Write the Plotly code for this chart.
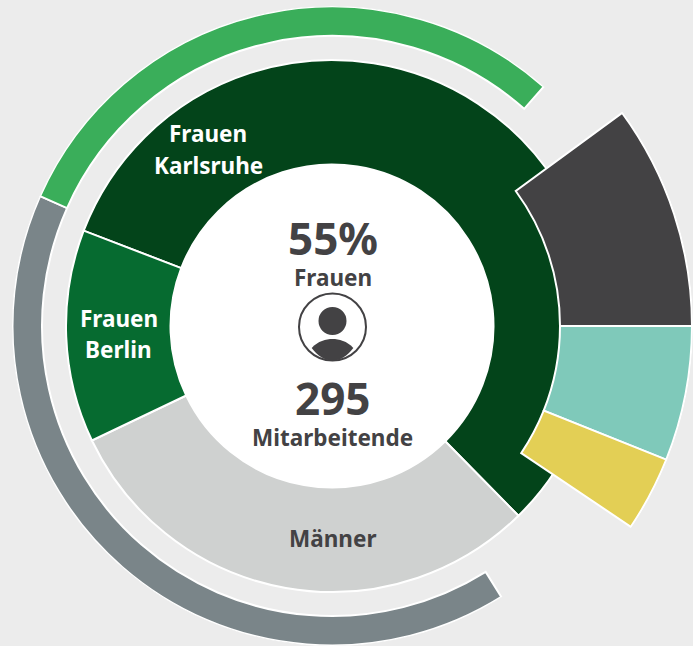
import math
import plotly.graph_objects as go

W, H = 693, 646
CX, CY = 332.0, 326.0

# Angular extents in degrees, clockwise from 12 o'clock
inner_labels = ["Frauen Karlsruhe", "Männer", "Frauen Berlin"]
inner_extents = [204.5, 109.0, 46.5]
inner_colors = ["#03441a", "#cfd1d0", "#066b30"]
inner_start = 291.0

wedge_labels = ["Anthrazit", "Türkis", "Gelb"]
wedge_extents = [36.3, 21.8, 12.1]
wedge_colors = ["#434244", "#7fc9ba", "#e3cf55"]
wedge_start = 53.7

arc_labels = ["Grau", "Grün"]
arc_extents = [146.0, 107.5]
arc_colors = ["#7a8589", "#3aae5a"]
arc_start = 148.0

def mids(start, extents):
    out, a = [], start
    for e in extents:
        out.append(a + e / 2)
        a += e
    return out

def bar(start, extents, colors, labels, r0, r1, subplot, lw=2):
    return go.Barpolar(theta=mids(start, extents), width=extents,
                       base=[r0] * len(extents), r=[r1 - r0] * len(extents),
                       marker=dict(color=colors, line=dict(color="white", width=lw)),
                       text=labels, hoverinfo="text", subplot=subplot, showlegend=False)

fig = go.Figure()
fig.add_trace(go.Barpolar(theta=[180], width=[360], base=[0], r=[162],
                          marker=dict(color="white", line=dict(width=0)),
                          hoverinfo="skip", subplot="polar", showlegend=False))
fig.add_trace(bar(inner_start, inner_extents, inner_colors, inner_labels, 161.5, 266, "polar"))
fig.add_trace(bar(arc_start, arc_extents, arc_colors, arc_labels, 290, 319.5, "polar"))
fig.add_trace(bar(wedge_start, wedge_extents, wedge_colors, wedge_labels, 228, 360, "polar2"))

R1 = 320
R2 = W - CX
def polar(domain, **kw):
    return dict(domain=domain, bgcolor="rgba(0,0,0,0)", barmode="overlay",
                angularaxis=dict(visible=False, direction="clockwise", rotation=90),
                **kw)

s0, s1 = -36.0, 39.0
layout_polar1 = polar(dict(x=[(CX - R1) / W, (CX + R1) / W], y=[max((H - CY - R1) / H, 0), (H - CY + R1) / H]),
                      radialaxis=dict(visible=False, range=[0, R1]))
layout_polar2 = polar(dict(x=[CX / W, 1],
                           y=[(H - CY - R2 * math.sin(math.radians(-s0))) / H,
                              (H - CY + R2 * math.sin(math.radians(s1))) / H]),
                      radialaxis=dict(visible=False, range=[0, R2]), sector=[s0, s1])

FONT = "Noto Sans"
TXT = "#434244"
def ann(text, x, y, size, color=TXT):
    return dict(text=f"<b>{text}</b>", x=x / W, y=1 - y / H, xref="paper", yref="paper",
                xanchor="center", yanchor="middle", showarrow=False,
                font=dict(family=FONT, size=size, color=color))

annotations = [
    ann("55%", 332.5, 238, 44),
    ann("Frauen", 332.5, 277, 22.5),
    ann("295", 332.5, 398, 44),
    ann("Mitarbeitende", 332.5, 437, 22.5),
    ann("Frauen", 207.5, 134, 22.5, "white"),
    ann("Karlsruhe", 208, 165, 22.5, "white"),
    ann("Frauen", 118.5, 318, 22.5, "white"),
    ann("Berlin", 118.5, 349, 22.5, "white"),
    ann("Männer", 332, 538.5, 22.5),
]

px = lambda x: x / W
py = lambda y: 1 - y / H
def circle(cx, cy, r, **kw):
    return dict(type="circle", xref="paper", yref="paper", x0=px(cx - r), x1=px(cx + r),
                y0=py(cy + r), y1=py(cy - r), **kw)

def pt(x, y):
    return f"{px(x)} {py(y)}"
body = ("M " + pt(311.7, 348) +
        " C " + pt(318, 341) + " " + pt(326, 339) + " " + pt(332.5, 339) +
        " C " + pt(339, 339) + " " + pt(347, 341) + " " + pt(353.3, 348) +
        " C " + pt(347.5, 356) + " " + pt(340, 360.5) + " " + pt(332.5, 360.5) +
        " C " + pt(325, 360.5) + " " + pt(317.5, 356) + " " + pt(311.7, 348) + " Z")
shapes = [
    circle(332.5, 327, 33.5, line=dict(color=TXT, width=2), fillcolor="rgba(0,0,0,0)"),
    circle(332.5, 321, 14, line=dict(width=0), fillcolor=TXT),
    dict(type="path", xref="paper", yref="paper", path=body, line=dict(width=0), fillcolor=TXT),
]

fig.update_layout(width=W, height=H, margin=dict(l=0, r=0, t=0, b=0),
                  paper_bgcolor="#ececec", plot_bgcolor="#ececec",
                  polar=layout_polar1, polar2=layout_polar2,
                  annotations=annotations, shapes=shapes, showlegend=False)
fig.write_html("out.html", config=dict(displayModeBar=False),
               post_script="document.documentElement.style.overflow='hidden';document.documentElement.style.background='#ececec';document.body.style.margin='0';document.body.style.background='#ececec';")
